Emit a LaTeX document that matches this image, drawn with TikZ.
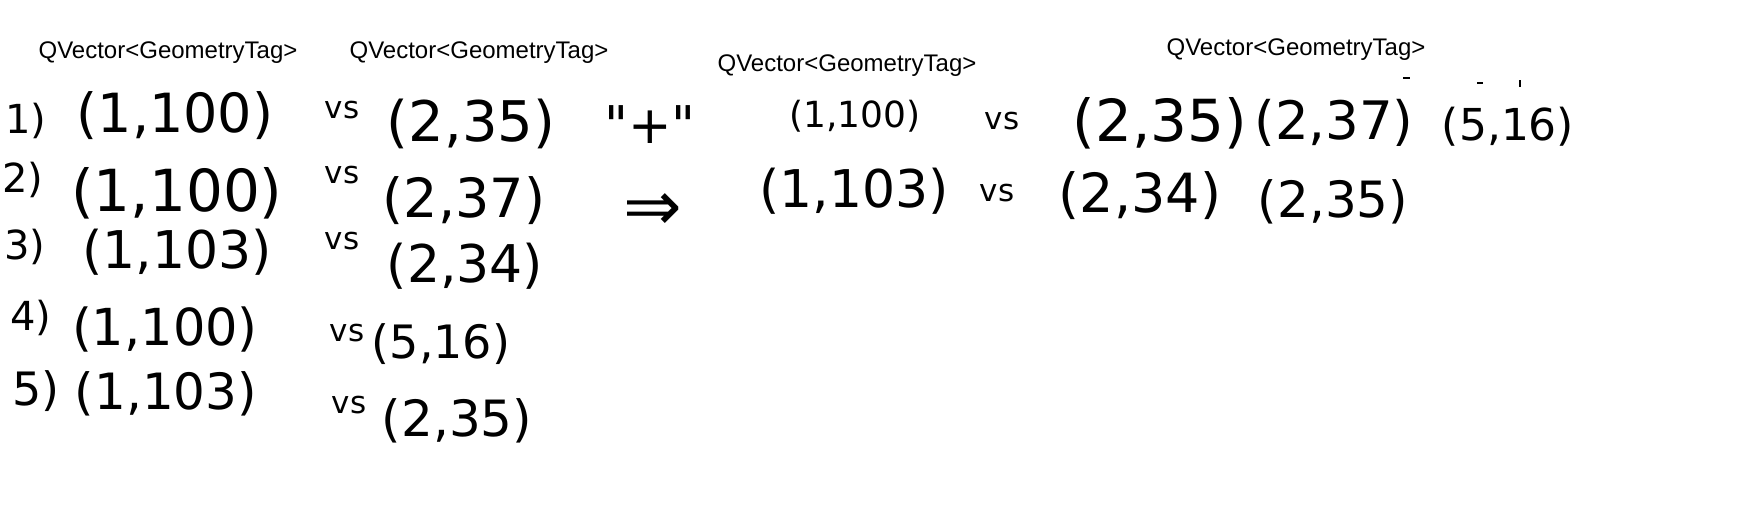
\documentclass[tikz,border=0pt]{standalone}
\usepackage{fontspec}
\setsansfont{Liberation Sans}
\newfontfamily\handfont{DejaVu Sans}
\usetikzlibrary{positioning}

\begin{document}
\begin{tikzpicture}[x=1pt, y=-1pt,
    tag/.style={inner sep=0pt, font=\sffamily\fontsize{24}{24}\selectfont},
    hw/.style={inner sep=0pt, font=\handfont\fontsize{#1}{#1}\selectfont},
    num/.style={hw=40},
    vsword/.style={hw=31},
    penmark/.style={line width=2pt}
  ]
  \useasboundingbox[fill=white] (0,0) rectangle (1739,517);

  % vector labels
  \node[tag] (tag1) at (168,53) {QVector<GeometryTag>};
  \node[tag] (tag2) at (479,53) {QVector<GeometryTag>};
  \node[tag] (tag3) at (847,66) {QVector<GeometryTag>};
  \node[tag] (tag4) at (1296,50) {QVector<GeometryTag>};

  % left list
  \node[num] (n1) at (26,121) {1)};
  \node[hw=54] (a1) at (175,116) {(1,100)};
  \node[vsword] (v1) at (342,110) {vs};
  \node[hw=56] (b1) at (471,124) {(2,35)};

  \node[num] (n2) at (23,180) {2)};
  \node[hw=58] (a2) at (177,193) {(1,100)};
  \node[vsword] (v2) at (342,175) {vs};
  \node[hw=54] (b2) at (464,201) {(2,37)};

  \node[num] (n3) at (25,247) {3)};
  \node[hw=52] (a3) at (177,252) {(1,103)};
  \node[vsword] (v3) at (342,241) {vs};
  \node[hw=52] (b3) at (465,266) {(2,34)};

  \node[hw=40] (n4) at (31,318) {4)};
  \node[hw=51] (a4) at (165,330) {(1,100)};
  \node[vsword] (v4) at (347,333) {vs};
  \node[hw=46] (b4) at (441,344) {(5,16)};

  \node[hw=46] (n5) at (36,391) {5)};
  \node[hw=50] (a5) at (166,394) {(1,103)};
  \node[vsword] (v5) at (349,405) {vs};
  \node[hw=50] (b5) at (457,421) {(2,35)};

  % plus and implies
  \node[hw=52] (plus) at (650,125) {"+"};
  \node[hw=70] (impl) at (653,212) {⇒};

  % merged result
  \node[hw=36] (ra1) at (855,116) {(1,100)};
  \node[vsword] (rv1) at (1002,121) {vs};
  \node[hw=58] (rb1) at (1160,123) {(2,35)};
  \node[hw=53] (rc1) at (1334,123) {(2,37)};
  \node[hw=44] (rd1) at (1508,127) {(5,16)};

  \node[hw=52] (ra2) at (854,191) {(1,103)};
  \node[vsword] (rv2) at (997,193) {vs};
  \node[hw=54] (rb2) at (1140,196) {(2,34)};
  \node[hw=50] (rc2) at (1333,202) {(2,35)};

  % stray pen marks
  \draw[penmark] (1403,78) -- (1410,78);
  \draw[penmark] (1477,83) -- (1483,83);
  \draw[penmark] (1520,80) -- (1520,87);
\end{tikzpicture}
\end{document}
